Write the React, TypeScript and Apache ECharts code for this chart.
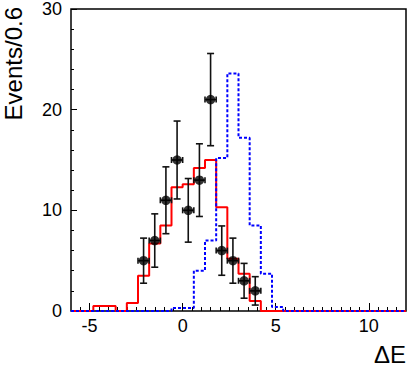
import React, { useEffect, useRef } from "react";
import * as echarts from "echarts";

// Histogram bin edges (ΔE), bin width 0.6
const binEdges = [
  -6, -5.4, -4.8, -4.2, -3.6, -3.0, -2.4, -1.8, -1.2, -0.6, 0, 0.6, 1.2, 1.8, 2.4, 3.0,
  3.6, 4.2, 4.8, 5.4, 6.0, 6.6, 7.2, 7.8, 8.4, 9.0, 9.6, 10.2, 10.8, 11.4, 12,
];

// Red solid histogram (fit / MC)
const redValues = [
  0, 0, 0.5, 0.5, 0, 0.8, 3.5, 6.7, 8.5, 12.3, 12.6, 14.2, 15.0, 10.3, 5.2, 3.7, 1.0, 0, 0, 0,
  0, 0, 0, 0, 0, 0, 0, 0, 0, 0,
];

// Blue dashed histogram
const blueValues = [
  0, 0, 0, 0, 0, 0, 0, 0, 0, 0.3, 0.3, 4.0, 7.0, 15.2, 23.6, 17.2, 8.5, 3.7, 0.4, 0,
  0, 0, 0, 0, 0, 0, 0, 0, 0, 0,
];

// Data points
const dataX = [-2.1, -1.5, -0.9, -0.3, 0.3, 0.9, 1.5, 2.1, 2.7, 3.3, 3.9];
const dataCounts = [5, 7, 11, 15, 10, 13, 21, 6, 5, 3, 2];
const dataErr = [2.24, 2.65, 3.32, 3.87, 3.16, 3.61, 4.58, 2.45, 2.24, 1.73, 1.41];
const dataHalfWidth = 0.3;

// Axis ticks
const xMajorTicks = [-5, 0, 5, 10];
const xMinorTicks = [
  -5.5, -4.5, -4, -3.5, -3, -2.5, -2, -1.5, -1, -0.5, 0.5, 1, 1.5, 2, 2.5, 3, 3.5, 4, 4.5,
  5.5, 6, 6.5, 7, 7.5, 8, 8.5, 9, 9.5, 10.5, 11, 11.5,
];

const FONT = "'Liberation Sans', Arial, Helvetica, sans-serif";

function histPoints(values: number[]): number[][] {
  const pts: number[][] = [];
  for (let i = 0; i < values.length; i++) {
    pts.push([binEdges[i], values[i]]);
    pts.push([binEdges[i + 1], values[i]]);
  }
  return pts;
}

export default function App() {
  const ref = useRef<HTMLDivElement>(null);

  useEffect(() => {
    if (!ref.current) return;
    const chart = echarts.init(ref.current, null, { renderer: "svg" });

    const errData = dataX.map((x, i) => [x, dataCounts[i], dataErr[i]]);
    const ink = "#111";

    chart.setOption({
      animation: false,
      backgroundColor: "#fff",
      grid: {
        left: 71,
        top: 6,
        right: 1,
        bottom: 58,
        show: true,
        borderColor: "#000",
        borderWidth: 1.5,
        backgroundColor: "transparent",
      },
      xAxis: [
        {
          type: "value",
          min: -6,
          max: 12,
          axisLine: { show: false, onZero: false },
          splitLine: { show: false },
          axisTick: {
            show: true,
            inside: true,
            length: 8,
            customValues: xMajorTicks,
            lineStyle: { color: "#000", width: 1 },
          },
          axisLabel: {
            customValues: xMajorTicks,
            fontFamily: FONT,
            fontSize: 18,
            color: "#000",
            margin: 6,
          },
        },
        {
          type: "value",
          min: -6,
          max: 12,
          position: "bottom",
          axisLine: { show: false, onZero: false },
          splitLine: { show: false },
          axisLabel: { show: false },
          axisTick: {
            show: true,
            inside: true,
            length: 4,
            customValues: xMinorTicks,
            lineStyle: { color: "#000", width: 1 },
          },
        },
      ],
      yAxis: {
        type: "value",
        min: 0,
        max: 30,
        interval: 10,
        position: "left",
        axisLine: { show: false, onZero: false },
        splitLine: { show: false },
        axisTick: {
          show: true,
          inside: true,
          length: 6,
          lineStyle: { color: "#000", width: 1 },
        },
        minorTick: {
          show: true,
          splitNumber: 5,
          length: 3,
          lineStyle: { color: "#000", width: 1 },
        },
        axisLabel: {
          fontFamily: FONT,
          fontSize: 18,
          color: "#000",
          margin: 9,
        },
      },
      graphic: [
        {
          type: "text",
          x: 1,
          y: 7,
          rotation: Math.PI / 2,
          style: {
            text: "Events/0.6",
            font: `24px ${FONT}`,
            fill: "#000",
            textAlign: "right",
            textVerticalAlign: "top",
          },
        },
        {
          type: "text",
          x: 406,
          y: 366,
          style: {
            text: "ΔE",
            font: `24px ${FONT}`,
            fill: "#000",
            textAlign: "right",
            textVerticalAlign: "bottom",
          },
        },
      ],
      series: [
        {
          type: "line",
          name: "red",
          data: histPoints(redValues),
          symbol: "none",
          clip: false,
          lineStyle: { color: "#ff0000", width: 2 },
          z: 2,
        },
        {
          type: "line",
          name: "blue",
          data: histPoints(blueValues),
          symbol: "none",
          clip: false,
          lineStyle: { color: "#0000ff", width: 2, type: [3, 2] },
          z: 3,
        },
        {
          type: "custom",
          name: "errors",
          data: errData,
          z: 4,
          renderItem: (params: any, api: any) => {
            const x = api.value(0);
            const y = api.value(1);
            const e = api.value(2);
            const top = api.coord([x, y + e]);
            const bot = api.coord([x, y - e]);
            const l = api.coord([x - dataHalfWidth, y]);
            const r = api.coord([x + dataHalfWidth, y]);
            const st = { stroke: ink, lineWidth: 1.6 };
            const cw = 3.5;
            const ch = 3;
            return {
              type: "group",
              children: [
                { type: "line", shape: { x1: top[0], y1: top[1], x2: bot[0], y2: bot[1] }, style: st },
                { type: "line", shape: { x1: top[0] - cw, y1: top[1], x2: top[0] + cw, y2: top[1] }, style: st },
                { type: "line", shape: { x1: bot[0] - cw, y1: bot[1], x2: bot[0] + cw, y2: bot[1] }, style: st },
                { type: "line", shape: { x1: l[0], y1: l[1], x2: r[0], y2: r[1] }, style: st },
                { type: "line", shape: { x1: l[0], y1: l[1] - ch, x2: l[0], y2: l[1] + ch }, style: st },
                { type: "line", shape: { x1: r[0], y1: r[1] - ch, x2: r[0], y2: r[1] + ch }, style: st },
              ],
            };
          },
        },
        {
          type: "scatter",
          name: "data",
          data: dataX.map((x, i) => [x, dataCounts[i]]),
          symbol: "circle",
          symbolSize: 9.5,
          itemStyle: { color: "#000" },
          z: 5,
        },
      ],
    });

    return () => chart.dispose();
  }, []);

  return <div ref={ref} style={{ width: 407, height: 369, position: "absolute", left: 0, top: 0 }} />;
}
